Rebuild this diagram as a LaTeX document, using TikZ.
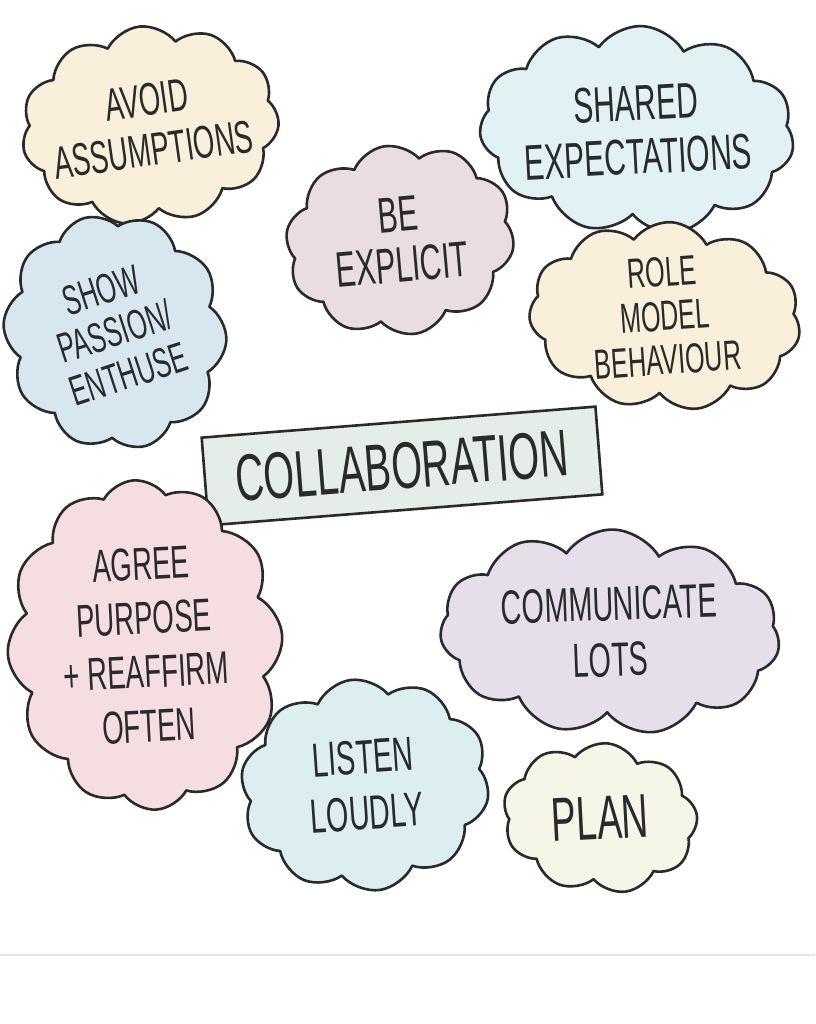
\documentclass[tikz,border=0pt]{standalone}
\usepackage{fontspec}
\usepackage{tikz}
\usetikzlibrary{shapes.symbols, positioning}
\newfontfamily\handfont{Liberation Sans}[FakeStretch=0.6]
\definecolor{ink}{RGB}{40,42,44}
\definecolor{creamfill}{RGB}{249,240,220}
\definecolor{cyanfill}{RGB}{226,241,243}
\definecolor{mauvefill}{RGB}{234,221,226}
\definecolor{bluefill}{RGB}{216,230,240}
\definecolor{sagefill}{RGB}{228,237,232}
\definecolor{pinkfill}{RGB}{245,221,226}
\definecolor{lilacfill}{RGB}{230,222,234}
\definecolor{mintfill}{RGB}{221,238,240}
\definecolor{ivoryfill}{RGB}{246,246,232}
\definecolor{rulegrey}{RGB}{228,228,228}

\begin{document}
\begin{tikzpicture}[
    x=1pt, y=-1pt,
    puff/.style={cloud, cloud puffs=11, cloud puff arc=115, cloud ignores aspect, draw=ink, line width=2.6pt, line join=round},
    handtext/.style={align=center, text=ink, inner sep=0pt},
    titlebox/.style={draw=ink, line width=2.6pt, fill=sagefill, minimum width=395pt, minimum height=88pt, inner sep=0pt},
]
    \useasboundingbox (0,0) rectangle (815,1024);
    \fill[white] (0,0) rectangle (815,1024);
    \node[puff, fill=creamfill, minimum width=258pt, minimum height=198pt, rotate=6,
        label={[handtext, rotate=8, font=\handfont\fontsize{46}{50}\selectfont]center:{AVOID\\ASSUMPTIONS}}] (avoid) at (150,125) {};
    \node[puff, fill=cyanfill, minimum width=315pt, minimum height=208pt, rotate=-3,
        label={[handtext, rotate=3, font=\handfont\fontsize{50}{54}\selectfont]center:{SHARED\\EXPECTATIONS}}] (shared) at (637,130) {};
    \node[puff, fill=mauvefill, cloud puffs=10, minimum width=230pt, minimum height=190pt, rotate=10,
        label={[handtext, rotate=5, font=\handfont\fontsize{50}{50}\selectfont]center:{BE\hspace{2.2em}\\EXPLICIT}}] (explicit) at (400,240) {};
    \node[puff, fill=creamfill, minimum width=272pt, minimum height=188pt, rotate=-4,
        label={[handtext, rotate=4, font=\handfont\fontsize{42}{44}\selectfont]center:{ROLE\\MODEL\\BEHAVIOUR}}] (rolemodel) at (665,316) {};
    \node[puff, fill=bluefill, cloud puffs=10, minimum width=222pt, minimum height=236pt, rotate=15,
        label={[handtext, rotate=18, font=\handfont\fontsize{42}{44}\selectfont]center:{SHOW\\PASSION/\\ENTHUSE}}] (passion) at (115,332) {};
    \node[titlebox, rotate=4.5, font=\handfont\fontsize{66}{66}\selectfont, text=ink] (collab) at (402,466) {COLLABORATION};
    \node[puff, fill=pinkfill, cloud puffs=12, minimum width=275pt, minimum height=330pt, rotate=4,
        label={[handtext, rotate=3, font=\handfont\fontsize{46}{54}\selectfont]center:{AGREE\\PURPOSE\\+ REAFFIRM\\OFTEN}}] (purpose) at (145,645) {};
    \node[puff, fill=lilacfill, minimum width=340pt, minimum height=205pt, rotate=-2,
        label={[handtext, rotate=2, font=\handfont\fontsize{48}{56}\selectfont]center:{COMMUNICATE\\LOTS}}] (communicate) at (610,632) {};
    \node[puff, fill=mintfill, cloud puffs=10, minimum width=250pt, minimum height=212pt, rotate=8,
        label={[handtext, rotate=4, font=\handfont\fontsize{48}{56}\selectfont]center:{LISTEN\\LOUDLY}}] (listen) at (365,785) {};
    \node[puff, fill=ivoryfill, cloud puffs=9, minimum width=195pt, minimum height=150pt, rotate=-6,
        label={[handtext, rotate=3, font=\handfont\fontsize{62}{62}\selectfont]center:{PLAN}}] (plan) at (600,818) {};
    \draw[rulegrey, line width=1.5pt] (0,955) -- (815,955);
\end{tikzpicture}
\end{document}
